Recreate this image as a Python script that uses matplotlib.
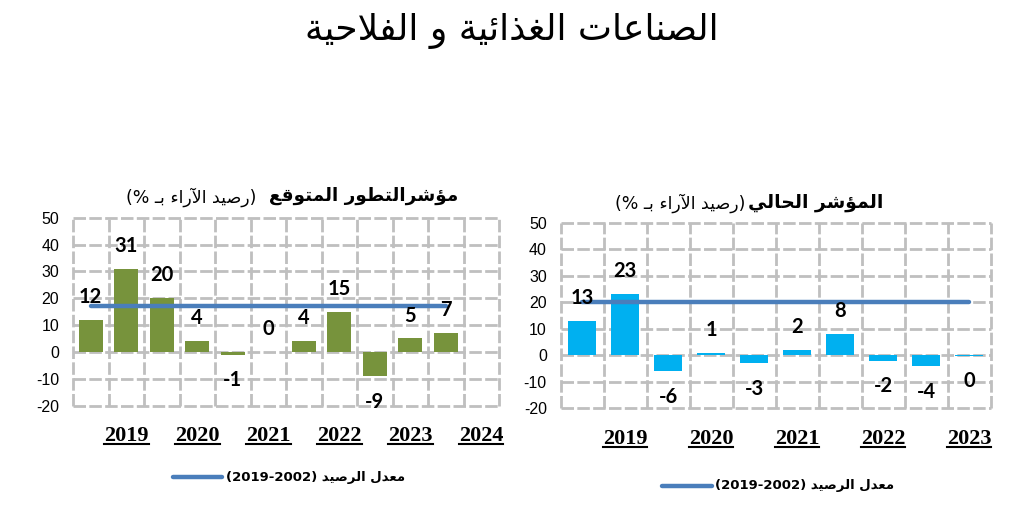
import re
import numpy as np
import matplotlib
matplotlib.use("Agg")
import matplotlib.pyplot as plt
from matplotlib.lines import Line2D
from matplotlib.transforms import IdentityTransform

# ---------------- data ----------------
title_text = "الصناعات الغذائية و الفلاحية"
left_title_bold = "مؤشرالتطور المتوقع"
left_title_note = "(رصيد الآراء بـ %)"
right_title_bold = "المؤشر الحالي"
right_title_note = "(رصيد الآراء بـ %)"
legend_label = "معدل الرصيد (2019-2002)"

y_ticks = [-20, -10, 0, 10, 20, 30, 40, 50]

left_years = ["", "2019", "", "2020", "", "2021", "", "2022", "", "2023", "", "2024"]
left_values = [12, 31, 20, 4, -1, 0, 4, 15, -9, 5, 7, None]
left_average = 17

right_years = ["", "2019", "", "2020", "", "2021", "", "2022", "", "2023"]
right_values = [13, 23, -6, 1, -3, 2, 8, -2, -4, -0.2]
right_average = 20

# ---------------- colours / style ----------------
GREEN = "#77933C"
CYAN = "#00B0F0"
AVG_BLUE = "#4A7EBB"
GRID = "#BFBFBF"
AR_FONT = "DejaVu Sans"

# ---------------- minimal Arabic shaping + visual ordering ----------------
DUAL = {
    "\u0626": 0xFE89, "\u0628": 0xFE8F, "\u062A": 0xFE95, "\u062B": 0xFE99,
    "\u062C": 0xFE9D, "\u062D": 0xFEA1, "\u062E": 0xFEA5, "\u0633": 0xFEB1,
    "\u0634": 0xFEB5, "\u0635": 0xFEB9, "\u0636": 0xFEBD, "\u0637": 0xFEC1,
    "\u0638": 0xFEC5, "\u0639": 0xFEC9, "\u063A": 0xFECD, "\u0641": 0xFED1,
    "\u0642": 0xFED5, "\u0643": 0xFED9, "\u0644": 0xFEDD, "\u0645": 0xFEE1,
    "\u0646": 0xFEE5, "\u0647": 0xFEE9, "\u064A": 0xFEF1,
}
RIGHT = {
    "\u0622": 0xFE81, "\u0623": 0xFE83, "\u0624": 0xFE85, "\u0625": 0xFE87,
    "\u0627": 0xFE8D, "\u0629": 0xFE93, "\u062F": 0xFEA9, "\u0630": 0xFEAB,
    "\u0631": 0xFEAD, "\u0632": 0xFEAF, "\u0648": 0xFEED, "\u0649": 0xFEEF,
}
NONJOIN = {"\u0621": 0xFE80}
TATWEEL = "\u0640"
LAM_ALEF = {"\u0622": 0xFEF5, "\u0623": 0xFEF7, "\u0625": 0xFEF9, "\u0627": 0xFEFB}


def _joins_next(c):
    return c in DUAL or c == TATWEEL


def _joins_prev(c):
    return c in DUAL or c in RIGHT or c == TATWEEL


def shape(s):
    out = []
    n = len(s)
    i = 0
    while i < n:
        c = s[i]
        cp = i > 0 and _joins_next(s[i - 1]) and _joins_prev(c)
        if c == "\u0644" and i + 1 < n and s[i + 1] in LAM_ALEF:
            base = LAM_ALEF[s[i + 1]]
            out.append(chr(base + (1 if cp else 0)))
            i += 2
            continue
        cn = i + 1 < n and _joins_next(c) and _joins_prev(s[i + 1])
        if c in DUAL:
            b = DUAL[c]
            if cp and cn:
                out.append(chr(b + 3))
            elif cn:
                out.append(chr(b + 2))
            elif cp:
                out.append(chr(b + 1))
            else:
                out.append(chr(b))
        elif c in RIGHT:
            out.append(chr(RIGHT[c] + (1 if cp else 0)))
        elif c in NONJOIN:
            out.append(chr(NONJOIN[c]))
        else:
            out.append(c)
        i += 1
    return "".join(out)


def ar(s):
    t = shape(s)[::-1]
    t = t.translate(str.maketrans({"(": ")", ")": "("}))
    t = re.sub(r"[0-9A-Za-z][0-9A-Za-z\-\.]*[0-9A-Za-z]|[0-9A-Za-z]",
               lambda m: m.group(0)[::-1], t)
    return t


# ---------------- figure ----------------
W, H = 1024, 505
fig = plt.figure(figsize=(W / 100, H / 100), dpi=100)
fig.patch.set_facecolor("white")


def px_rect(x0, y_top, x1, y_bot):
    return [x0 / W, 1 - y_bot / H, (x1 - x0) / W, (y_bot - y_top) / H]


def draw_panel(ax, years, values, avg, color, bar_w, year_pad):
    n = len(years)
    xs = np.arange(n)
    ax.set_xlim(-0.5, n - 0.5)
    ax.set_ylim(y_ticks[0], y_ticks[-1])
    for s in ax.spines.values():
        s.set_visible(False)
    # dashed grey grid (drawn manually so the outer lines are not clipped)
    for yv in y_ticks:
        ax.axhline(yv, color=GRID, lw=2.0, ls=(0, (4.5, 1.2)), zorder=1, clip_on=False)
    for b in np.arange(n + 1) - 0.5:
        ax.axvline(b, color=GRID, lw=2.0, ls=(0, (4.5, 1.2)), zorder=1, clip_on=False)

    idx = [i for i, v in enumerate(values) if v is not None]
    vals = [values[i] for i in idx]
    ax.bar(idx, vals, width=bar_w, color=color, zorder=2)
    ax.plot([idx[0], idx[-1]], [avg, avg], color=AVG_BLUE, lw=3.2,
            solid_capstyle="round", zorder=3)
    for i, v in zip(idx, vals):
        off = 16.5 if v >= 0 else -18.5
        ax.annotate(f"{int(round(v))}", (i, v), xytext=(0, off),
                    textcoords="offset points", ha="center", va="center",
                    fontsize=14.5, fontweight="bold", family="Lato",
                    color="black", zorder=5, annotation_clip=False)

    ax.set_yticks(y_ticks)
    ax.set_yticklabels([str(t) for t in y_ticks], family="Liberation Sans",
                       fontsize=11.5)
    ax.set_xticks(xs)
    ax.set_xticklabels(years, family="Liberation Serif", fontweight="bold",
                       fontsize=16)
    ax.tick_params(axis="both", length=0)
    ax.tick_params(axis="y", pad=10)
    ax.tick_params(axis="x", pad=year_pad)


axL = fig.add_axes(px_rect(73, 217.7, 499, 405.6))
draw_panel(axL, left_years, left_values, left_average, GREEN, 0.68, 15)

axR = fig.add_axes(px_rect(560.7, 222.7, 990.7, 408.3))
draw_panel(axR, right_years, right_values, right_average, CYAN, 0.65, 15)

# main title
fig.text(0.5, 1 - 31 / H, ar(title_text), ha="center", va="center",
         fontsize=26, family=AR_FONT, color="black")

# panel subtitles (bold part + smaller note to its left)
tL = fig.text(458 / W, 1 - 196 / H, ar(left_title_bold), ha="right",
              va="center", fontsize=13.2, fontweight="bold", family=AR_FONT)
tR = fig.text(883 / W, 1 - 202 / H, ar(right_title_bold), ha="right",
              va="center", fontsize=13.5, fontweight="bold", family=AR_FONT)

# legends
for (x0, x1, y, xt) in [(173, 222, 477, 226), (662, 712, 486, 715)]:
    fig.add_artist(Line2D([x0 / W, x1 / W], [1 - y / H, 1 - y / H],
                          transform=fig.transFigure, color=AVG_BLUE, lw=3.2,
                          solid_capstyle="round"))
    fig.text(xt / W, 1 - y / H, ar(legend_label), ha="left", va="center",
             fontsize=9.5, fontweight="bold", family=AR_FONT)

fig.canvas.draw()
r = fig.canvas.get_renderer()

# notes placed from the rendered extent of the bold parts
for t, note, gap, y in [(tL, left_title_note, 12, 197), (tR, right_title_note, 2, 203)]:
    bb = t.get_window_extent(r)
    fig.text(bb.x0 - gap, H - y, ar(note), ha="right", va="center",
             fontsize=12.5, family=AR_FONT, transform=IdentityTransform())

# underline the year labels
for ax in (axL, axR):
    for lab in ax.get_xticklabels():
        if lab.get_text():
            bb = lab.get_window_extent(r)
            yline = bb.y0 + 2.5
            fig.add_artist(Line2D([bb.x0, bb.x1], [yline, yline],
                                  transform=IdentityTransform(), color="black",
                                  lw=1.5))

fig.savefig("out.png", dpi=100, facecolor="white")
